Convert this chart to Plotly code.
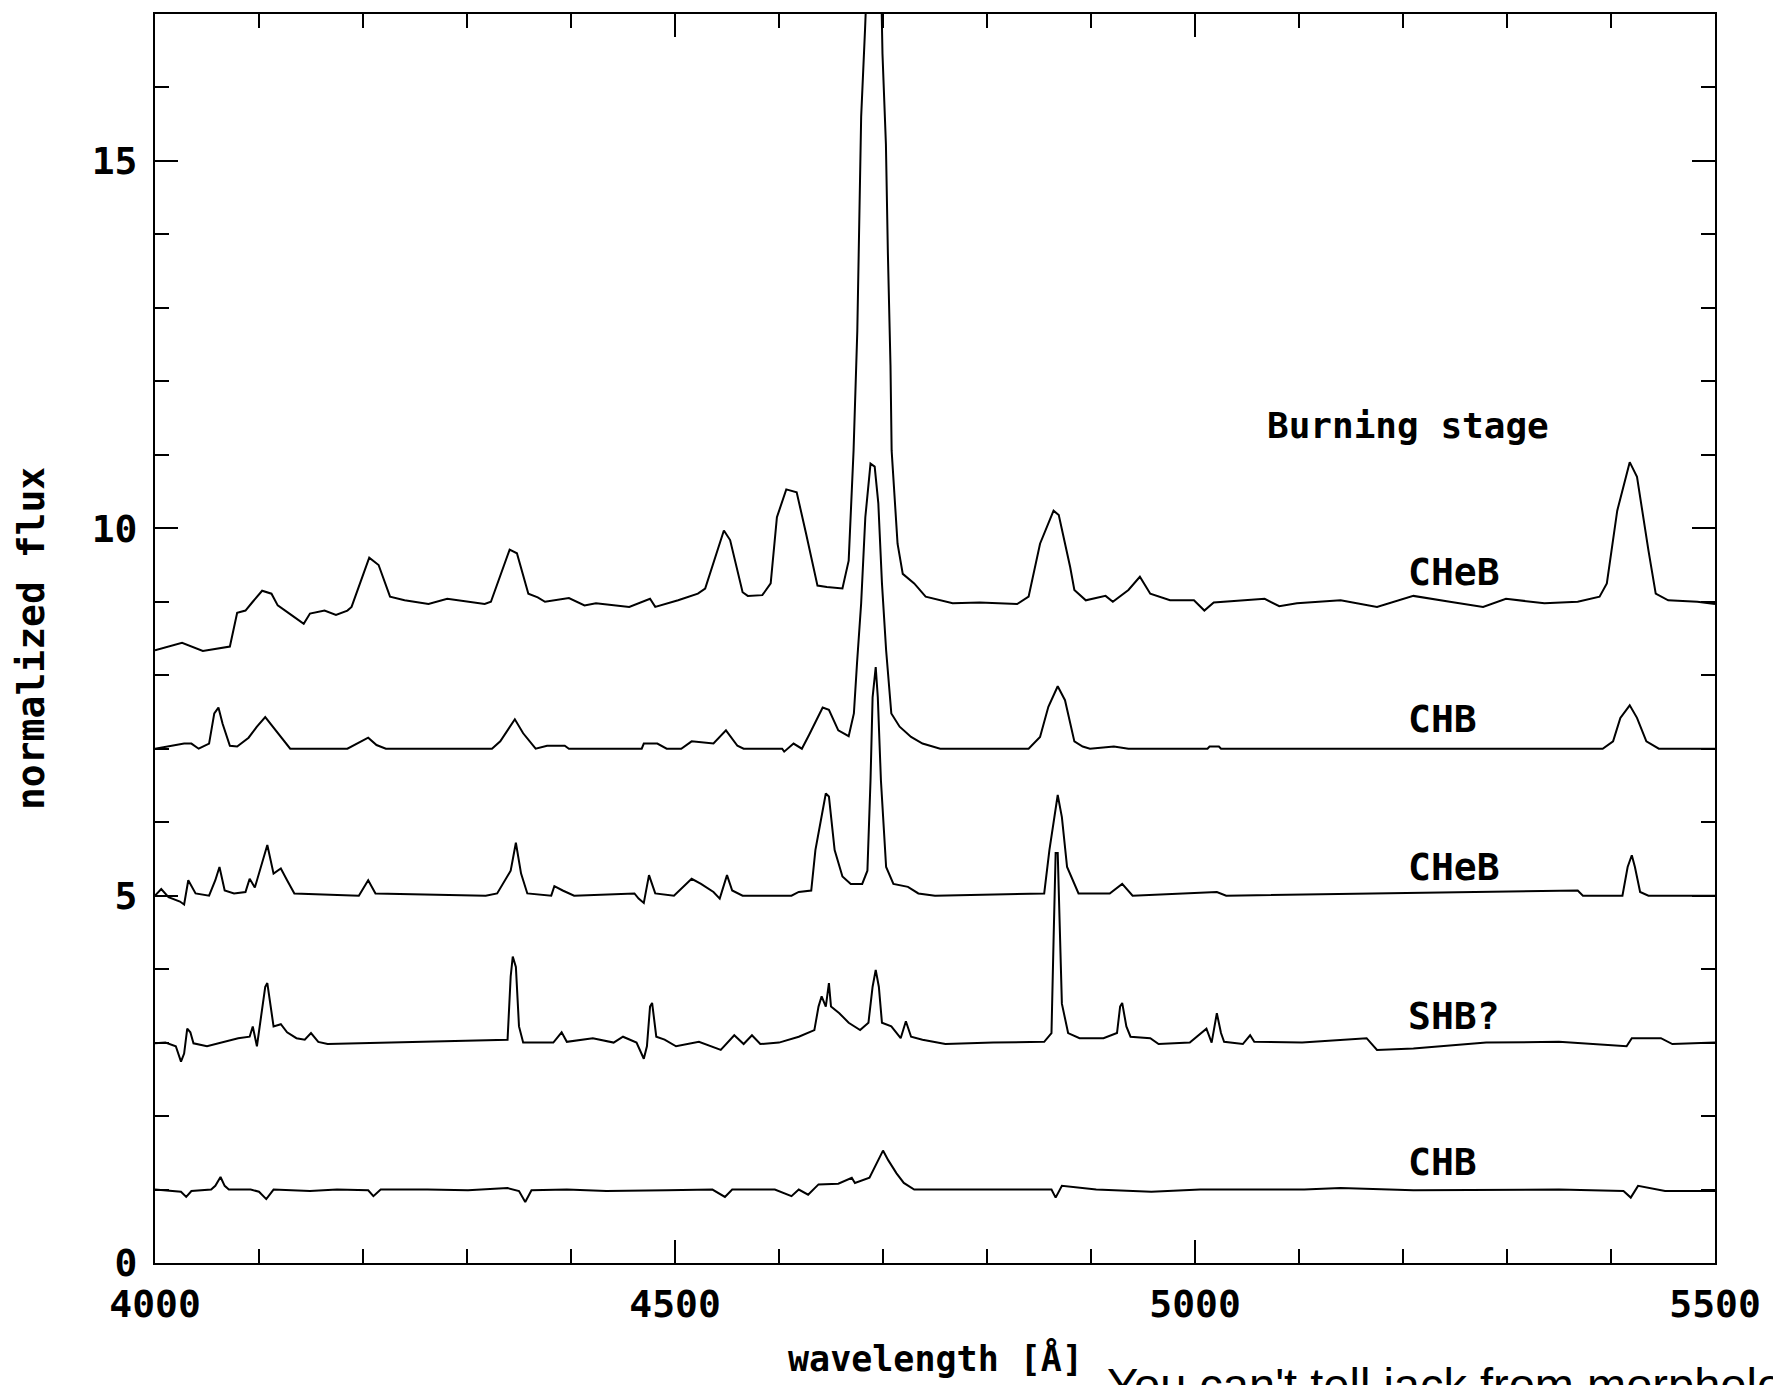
import plotly.graph_objects as go

# ---------------- data ----------------
x_ticks = [4000, 4500, 5000, 5500]
y_ticks = [0, 5, 10, 15]

# top spectrum, CHeB (baseline ~9)
spec_cheb_top = [
    (4000, 8.34), (4026, 8.44), (4046, 8.33), (4072, 8.39), (4079, 8.85), (4087, 8.88),
    (4094, 9.00), (4103, 9.15), (4112, 9.11), (4118, 8.95), (4134, 8.79), (4143, 8.70),
    (4149, 8.84), (4163, 8.88), (4174, 8.82), (4185, 8.88), (4189, 8.93), (4206, 9.60),
    (4215, 9.50), (4226, 9.07), (4240, 9.02), (4263, 8.97), (4281, 9.04), (4300, 9.00),
    (4317, 8.97), (4323, 9.00), (4341, 9.71), (4348, 9.66), (4359, 9.11), (4368, 9.06),
    (4375, 9.00), (4398, 9.05), (4413, 8.95), (4424, 8.98), (4456, 8.93), (4476, 9.04),
    (4481, 8.93), (4503, 9.02), (4522, 9.11), (4529, 9.18), (4547, 9.97), (4553, 9.84),
    (4565, 9.13), (4570, 9.08), (4584, 9.09), (4592, 9.25), (4598, 10.15), (4607, 10.53),
    (4617, 10.49), (4626, 9.93), (4637, 9.22), (4646, 9.20), (4661, 9.18), (4667, 9.56),
    (4671.7, 11.06), (4675.3, 12.69), (4677.1, 14.24), (4679, 15.60), (4682.7, 16.78),
    (4685, 17.6), (4691, 19.0), (4698, 17.6), (4699.5, 16.46), (4702.8, 15.23),
    (4704.7, 13.74), (4707.2, 12.22), (4708.3, 11.06), (4714, 9.79), (4719, 9.38),
    (4730, 9.25), (4741, 9.07), (4755, 9.02), (4767, 8.98), (4793, 8.99), (4829, 8.97),
    (4840, 9.07), (4851, 9.79), (4864, 10.24), (4869, 10.18), (4880, 9.47), (4884, 9.16),
    (4895, 9.02), (4914, 9.08), (4921, 9.00), (4936, 9.16), (4947, 9.34), (4957, 9.11),
    (4976, 9.02), (4999, 9.02), (5009, 8.88), (5018, 8.99), (5067, 9.04), (5081, 8.94),
    (5098, 8.98), (5140, 9.02), (5175, 8.93), (5210, 9.08), (5245, 9.00), (5277, 8.93),
    (5299, 9.04), (5336, 8.98), (5368, 9.00), (5389, 9.07), (5396, 9.25), (5406, 10.24),
    (5418, 10.90), (5425, 10.70), (5436, 9.70), (5443, 9.11), (5455, 9.02), (5483, 9.00),
    (5500, 8.97),
]

# second spectrum, CHB (baseline ~7)
spec_chb_upper = [
    (4000, 7.0), (4028, 7.07), (4035, 7.07), (4042, 7.0), (4052, 7.07), (4057, 7.48),
    (4061, 7.56), (4065, 7.34), (4072, 7.04), (4079, 7.03), (4090, 7.15), (4098, 7.30),
    (4106, 7.43), (4116, 7.25), (4130, 7.0), (4185, 7.0), (4198, 7.10), (4205, 7.15),
    (4213, 7.05), (4222, 7.0), (4324, 7.0), (4332, 7.10), (4346, 7.40), (4354, 7.21),
    (4366, 7.0), (4377, 7.04), (4394, 7.04), (4398, 7.0), (4468, 7.0), (4470, 7.07),
    (4483, 7.07), (4492, 7.0), (4506, 7.0), (4516, 7.10), (4537, 7.07), (4549, 7.25),
    (4560, 7.04), (4566, 7.0), (4603, 7.0), (4605, 6.96), (4614, 7.07), (4622, 7.0),
    (4629, 7.19), (4642, 7.56), (4648, 7.53), (4657, 7.25), (4667, 7.17), (4672, 7.48),
    (4675, 8.16), (4679, 8.98), (4683, 10.15), (4688, 10.88), (4692, 10.84),
    (4695.5, 10.34), (4699, 9.25), (4703, 8.34), (4708, 7.48), (4716, 7.30), (4727, 7.16),
    (4738, 7.07), (4755, 7.0), (4840, 7.0), (4851, 7.16), (4859, 7.57), (4868, 7.85),
    (4875, 7.66), (4884, 7.10), (4892, 7.03), (4899, 7.0), (4922, 7.03), (4936, 7.0),
    (5012, 7.0), (5014, 7.03), (5023, 7.03), (5025, 7.0), (5392, 7.0), (5402, 7.10),
    (5409, 7.42), (5418, 7.59), (5425, 7.42), (5434, 7.10), (5446, 7.0), (5500, 7.0),
]

# third spectrum, CHeB (baseline ~5)
spec_cheb_mid = [
    (4000, 5.0), (4006, 5.09), (4013, 4.98), (4024, 4.92), (4028, 4.88), (4032, 5.21),
    (4039, 5.03), (4052, 5.0), (4058, 5.21), (4062, 5.39), (4067, 5.07), (4076, 5.03),
    (4087, 5.05), (4091, 5.23), (4096, 5.11), (4108, 5.69), (4114, 5.30), (4121, 5.37),
    (4127, 5.21), (4134, 5.03), (4196, 5.0), (4205, 5.21), (4212, 5.03), (4318, 5.0),
    (4329, 5.03), (4342, 5.34), (4347, 5.72), (4352, 5.30), (4358, 5.03), (4381, 5.0),
    (4384, 5.13), (4392, 5.07), (4403, 5.0), (4461, 5.03), (4465, 4.96), (4470, 4.90),
    (4475, 5.28), (4481, 5.03), (4499, 5.0), (4516, 5.23), (4525, 5.16), (4537, 5.05),
    (4543, 4.96), (4550, 5.28), (4555, 5.07), (4565, 5.0), (4612, 5.0), (4619, 5.05),
    (4631, 5.07), (4635, 5.62), (4645, 6.39), (4648, 6.35), (4653.5, 5.62), (4661, 5.26),
    (4669, 5.16), (4680, 5.16), (4685, 5.34), (4688, 6.57), (4690, 7.70), (4693, 8.11),
    (4695, 7.70), (4698, 6.57), (4703, 5.39), (4710, 5.16), (4724, 5.12), (4734, 5.03),
    (4750, 5.0), (4855, 5.03), (4860, 5.62), (4868, 6.37), (4872, 6.07), (4877, 5.39),
    (4888, 5.03), (4918, 5.03), (4930, 5.16), (4940, 5.0), (5021, 5.05), (5030, 5.0),
    (5368, 5.07), (5373, 5.0), (5411, 5.0), (5416, 5.39), (5420, 5.55), (5423, 5.39),
    (5428, 5.05), (5436, 5.0), (5500, 5.0),
]

# fourth spectrum, SHB? (baseline ~3)
spec_shb = [
    (4000, 2.99), (4010, 3.0), (4020, 2.95), (4025, 2.74), (4028, 2.85), (4031, 3.19),
    (4034, 3.14), (4037, 2.99), (4050, 2.95), (4065, 3.0), (4080, 3.06), (4091, 3.08),
    (4094, 3.22), (4098, 2.95), (4102, 3.35), (4106, 3.76), (4108, 3.81), (4111, 3.49),
    (4114, 3.22), (4121, 3.25), (4127, 3.14), (4136, 3.06), (4144, 3.04), (4150, 3.13),
    (4157, 3.01), (4166, 2.98), (4339, 3.04), (4342, 3.90), (4344, 4.17), (4347, 4.03),
    (4350, 3.22), (4354, 3.0), (4383, 3.0), (4391, 3.14), (4396, 3.01), (4421, 3.06),
    (4441, 3.0), (4450, 3.08), (4463, 3.0), (4470, 2.78), (4473, 2.95), (4476, 3.49),
    (4478, 3.54), (4482, 3.08), (4490, 3.04), (4501, 2.95), (4523, 3.01), (4544, 2.90),
    (4557, 3.10), (4566, 2.98), (4574, 3.10), (4582, 2.98), (4600, 3.0), (4619, 3.08),
    (4634, 3.17), (4638, 3.49), (4641, 3.63), (4645, 3.49), (4648, 3.81), (4650, 3.49),
    (4658, 3.40), (4667, 3.27), (4678, 3.17), (4686, 3.27), (4690, 3.76), (4693, 3.99),
    (4696, 3.76), (4699, 3.27), (4708, 3.22), (4717, 3.06), (4722, 3.29), (4727, 3.08),
    (4738, 3.04), (4760, 2.98), (4806, 3.0), (4855, 3.01), (4862, 3.13), (4864, 4.39),
    (4866, 5.58), (4868, 5.58), (4870, 4.39), (4872, 3.53), (4878, 3.13), (4889, 3.06),
    (4912, 3.06), (4925, 3.13), (4928, 3.49), (4930, 3.54), (4934, 3.22), (4938, 3.08),
    (4957, 3.06), (4965, 2.98), (4995, 3.0), (5011, 3.19), (5016, 3.0), (5021, 3.40),
    (5025, 3.13), (5028, 3.01), (5046, 2.98), (5053, 3.10), (5057, 3.01), (5103, 3.0),
    (5165, 3.06), (5175, 2.90), (5210, 2.92), (5280, 3.0), (5350, 3.01), (5415, 2.95),
    (5420, 3.06), (5448, 3.06), (5459, 2.98), (5500, 3.0),
]

# bottom spectrum, CHB (baseline ~1)
spec_chb_lower = [
    (4000, 1.0), (4014, 0.98), (4025, 0.97), (4030, 0.90), (4035, 0.98), (4054, 1.0),
    (4058, 1.05), (4063, 1.17), (4067, 1.05), (4071, 1.0), (4092, 1.0), (4100, 0.97),
    (4107, 0.87), (4114, 1.0), (4149, 0.98), (4175, 1.0), (4205, 0.99), (4210, 0.91),
    (4217, 1.0), (4262, 1.0), (4301, 0.99), (4339, 1.02), (4350, 0.98), (4356, 0.83),
    (4362, 0.99), (4396, 1.0), (4434, 0.98), (4492, 0.99), (4536, 1.0), (4548, 0.90),
    (4555, 1.0), (4596, 1.0), (4612, 0.91), (4619, 1.0), (4628, 0.93), (4638, 1.07),
    (4657, 1.08), (4670, 1.16), (4673, 1.09), (4687, 1.16), (4692, 1.31), (4700, 1.53),
    (4705, 1.40), (4713, 1.22), (4720, 1.09), (4730, 1.0), (4758, 1.0), (4800, 1.0),
    (4862, 1.0), (4866, 0.89), (4872, 1.05), (4905, 1.0), (4958, 0.97), (5005, 1.0),
    (5105, 1.0), (5140, 1.02), (5210, 0.99), (5350, 1.0), (5412, 0.98), (5419, 0.89),
    (5426, 1.05), (5452, 0.98), (5500, 0.98),
]

spectra = [spec_cheb_top, spec_chb_upper, spec_cheb_mid, spec_shb, spec_chb_lower]

stage_labels = ["CHeB", "CHB", "CHeB", "SHB?", "CHB"]
stage_label_y = [9.41, 7.40, 5.39, 3.36, 1.37]
stage_label_x = 5203
header_text = "Burning stage"
header_xy = (5067, 11.40)
caption = "You can't tell jack from morphology"

# ---------------- figure ----------------
PG_FONT = "DejaVu Sans Mono"

fig = go.Figure()
for spec in spectra:
    fig.add_trace(go.Scatter(
        x=[p[0] for p in spec], y=[p[1] for p in spec],
        mode="lines", line=dict(color="black", width=2),
        showlegend=False, hoverinfo="skip",
    ))

for txt, yy in zip(stage_labels, stage_label_y):
    fig.add_annotation(x=stage_label_x, y=yy, xref="x", yref="y", text=txt,
                       showarrow=False, xanchor="left", yanchor="middle",
                       font=dict(family=PG_FONT, size=38, color="black", weight="bold"))

fig.add_annotation(x=header_xy[0], y=header_xy[1], xref="x", yref="y", text=header_text,
                   showarrow=False, xanchor="left", yanchor="middle",
                   font=dict(family=PG_FONT, size=36, color="black", weight="bold"))

# axis titles
fig.add_annotation(x=0.5, y=-0.0765, xref="paper", yref="paper", text="wavelength [Å]",
                   showarrow=False, xanchor="center", yanchor="middle",
                   font=dict(family=PG_FONT, size=35, color="black", weight="bold"))
fig.add_annotation(x=-0.0798, y=0.5, xref="paper", yref="paper", text="normalized flux",
                   showarrow=False, xanchor="center", yanchor="middle", textangle=-90,
                   font=dict(family=PG_FONT, size=38, color="black", weight="bold"))

# caption (cut off by the page edge, as in the reference)
fig.add_annotation(x=0.6088, y=-0.0745, xref="paper", yref="paper", text=caption,
                   showarrow=False, xanchor="left", yanchor="top",
                   font=dict(family="Liberation Sans", size=47, color="black"))

axis_common = dict(
    showline=True, linecolor="black", linewidth=2, mirror="allticks",
    ticks="inside", ticklen=23, tickwidth=2, tickcolor="black",
    showgrid=False, zeroline=False,
    tickfont=dict(family=PG_FONT, size=38, color="black", weight="bold"),
)

fig.update_xaxes(range=[4000, 5500], tickvals=x_ticks, ticktext=[str(v) for v in x_ticks],
                 minor=dict(ticks="inside", ticklen=14, tickwidth=2, tickcolor="black", dtick=100,
                            showgrid=False),
                 ticklabelstandoff=6, **axis_common)
fig.update_yaxes(range=[0, 17], tickvals=y_ticks, ticktext=[str(v) for v in y_ticks],
                 minor=dict(ticks="inside", ticklen=14, tickwidth=2, tickcolor="black", dtick=1,
                            showgrid=False),
                 ticklabelstandoff=8, **axis_common)

fig.update_layout(
    width=1773, height=1385,
    margin=dict(l=155, r=51, t=14, b=122, pad=0),
    paper_bgcolor="white", plot_bgcolor="white",
    showlegend=False,
)

fig.write_html("out.html")
